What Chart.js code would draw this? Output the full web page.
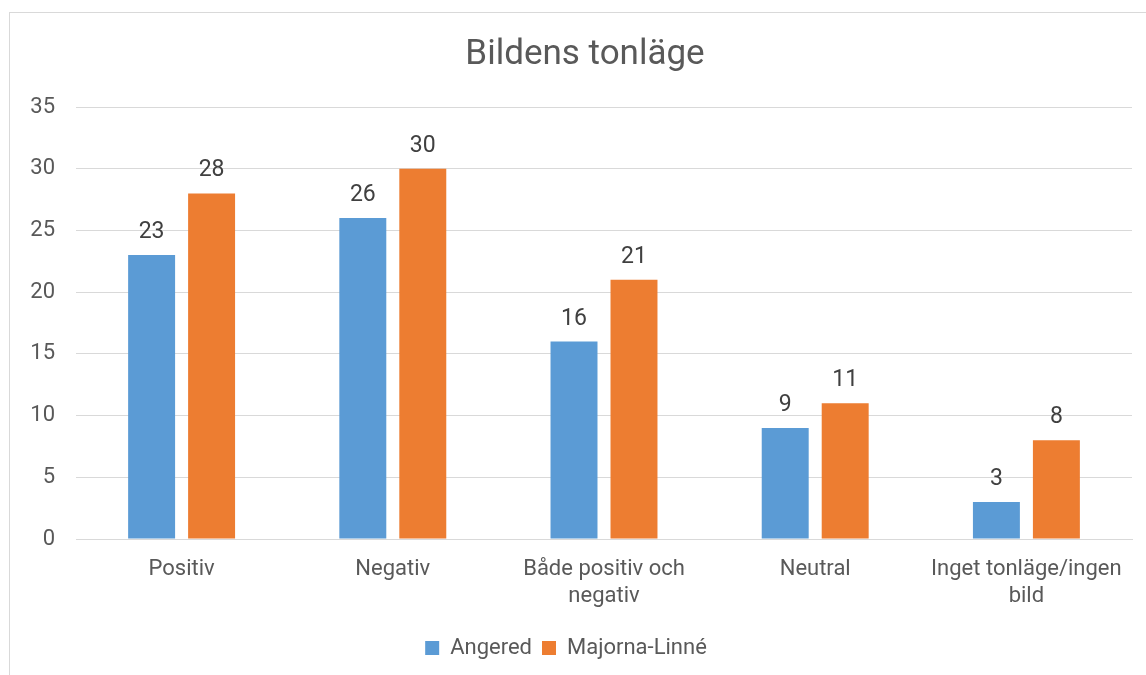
<!DOCTYPE html>
<html>
<head>
<meta charset="utf-8">
<script src="https://cdn.jsdelivr.net/npm/chart.js@4"></script>
<style>
  html, body { margin: 0; padding: 0; background: #fff; }
  #wrap { position: relative; width: 1146px; height: 675px; overflow: hidden; }
  #frame { position: absolute; left: 9px; top: 12px; width: 1200px; height: 700px; border: 1px solid #d9d9d9; box-sizing: border-box; }
  canvas { position: absolute; left: 0; top: 0; }
</style>
</head>
<body>
<div id="wrap">
  <div id="frame"></div>
  <canvas id="tonChart" width="1146" height="675"></canvas>
</div>
<script>
// Data
const chartTitle = 'Bildens tonläge';
const categories = ['Positiv', 'Negativ', ['Både positiv och', 'negativ'], 'Neutral', ['Inget tonläge/ingen', 'bild']];
const angered = [23, 26, 16, 9, 3];
const majorna = [28, 30, 21, 11, 8];
const yTicks = [0, 5, 10, 15, 20, 25, 30, 35];

const FONT = 'Roboto, "Liberation Sans", sans-serif';
const TXT = '#595959';

// Etiketter ovanför staplarna + rubrik centrerad över ramen
const valueLabels = {
  id: 'valueLabels',
  afterDatasetsDraw(chart) {
    const ctx = chart.ctx;
    ctx.save();
    ctx.font = '23px ' + FONT;
    ctx.fillStyle = '#404040';
    ctx.textAlign = 'center';
    ctx.textBaseline = 'alphabetic';
    chart.data.datasets.forEach((ds, i) => {
      chart.getDatasetMeta(i).data.forEach((bar, j) => {
        ctx.fillText(ds.data[j], bar.x, bar.y - 17);
      });
    });
    ctx.font = '35px ' + FONT;
    ctx.fillStyle = TXT;
    ctx.textBaseline = 'middle';
    ctx.fillText(chartTitle, 585, 55);
    ctx.restore();
  }
};

const ctx = document.getElementById('tonChart').getContext('2d');
new Chart(ctx, {
  type: 'bar',
  data: {
    labels: categories,
    datasets: [
      { label: 'Angered', data: angered, backgroundColor: '#5b9bd5' },
      { label: 'Majorna-Linné', data: majorna, backgroundColor: '#ed7d31' }
    ]
  },
  options: {
    responsive: false,
    animation: false,
    devicePixelRatio: 1,
    categoryPercentage: 0.568,
    barPercentage: 0.783,
    layout: { padding: { left: 0, right: 14, top: 107, bottom: 6 } },
    plugins: {
      title: { display: false },
      legend: {
        position: 'bottom',
        labels: {
          color: TXT,
          font: { family: FONT, size: 22 },
          boxWidth: 14,
          boxHeight: 14,
          padding: 10,
          useBorderRadius: false
        }
      },
      tooltip: { enabled: false }
    },
    scales: {
      x: {
        afterFit(scale) { scale.height = 88; },
        grid: { display: false, drawTicks: false },
        border: { color: '#d9d9d9', width: 1 },
        ticks: {
          color: TXT,
          font: { family: FONT, size: 22, lineHeight: 1.23 },
          padding: 17,
          maxRotation: 0,
          autoSkip: false
        }
      },
      y: {
        min: 0,
        max: 35,
        afterFit(scale) { scale.width = 76; },
        afterBuildTicks(scale) { scale.ticks = yTicks.map(v => ({ value: v })); },
        grid: { color: '#d9d9d9', drawTicks: false },
        border: { display: false },
        ticks: {
          color: TXT,
          font: { family: FONT, size: 22 },
          padding: 21
        }
      }
    }
  },
  plugins: [valueLabels]
});
</script>
</body>
</html>
